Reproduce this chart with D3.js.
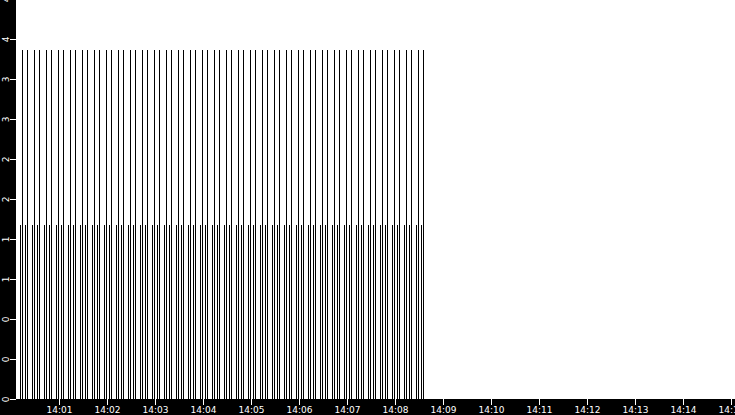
<!DOCTYPE html>
<html><head><meta charset="utf-8">
<script src="https://cdn.jsdelivr.net/npm/d3@7"></script>
<style>
html,body{margin:0;padding:0;background:#fff;}
svg{display:block;}
</style></head>
<body>
<svg id="c" width="735" height="415"></svg>
<script>
// ---- data ----
const tallTimes = [
"14:00:14.4","14:00:20.6","14:00:29.4","14:00:35.6","14:00:44.4","14:00:50.6","14:00:59.4","14:01:05.6",
"14:01:14.4","14:01:20.6","14:01:29.4","14:01:35.6","14:01:44.4","14:01:50.6","14:01:59.4","14:02:05.6",
"14:02:14.4","14:02:20.6","14:02:29.4","14:02:35.6","14:02:44.4","14:02:50.6","14:02:59.4","14:03:05.6",
"14:03:14.4","14:03:20.6","14:03:29.4","14:03:35.6","14:03:44.4","14:03:50.6","14:03:59.4","14:04:05.6",
"14:04:14.4","14:04:20.6","14:04:29.4","14:04:35.6","14:04:44.4","14:04:50.6","14:04:59.4","14:05:05.6",
"14:05:14.4","14:05:20.6","14:05:29.4","14:05:35.6","14:05:44.4","14:05:50.6","14:05:59.4","14:06:05.6",
"14:06:14.4","14:06:20.6","14:06:29.4","14:06:35.6","14:06:44.4","14:06:50.6","14:06:59.4","14:07:05.6",
"14:07:14.4","14:07:20.6","14:07:29.4","14:07:35.6","14:07:44.4","14:07:50.6","14:07:59.4","14:08:05.6",
"14:08:14.4","14:08:20.6","14:08:29.4","14:08:35.6"];
const tallValues = [
3.93,3.93,3.93,3.93,3.93,3.93,3.93,3.93,
3.93,3.93,3.93,3.93,3.93,3.93,3.93,3.93,
3.93,3.93,3.93,3.93,3.93,3.93,3.93,3.93,
3.93,3.93,3.93,3.93,3.93,3.93,3.93,3.93,
3.93,3.93,3.93,3.93,3.93,3.93,3.93,3.93,
3.93,3.93,3.93,3.93,3.93,3.93,3.93,3.93,
3.93,3.93,3.93,3.93,3.93,3.93,3.93,3.93,
3.93,3.93,3.93,3.93,3.93,3.93,3.93,3.93,
3.93,3.93,3.93,3.93];
const shortTimes = [
"14:00:11.9","14:00:18.1","14:00:26.9","14:00:33.1","14:00:41.9","14:00:48.1","14:00:56.9","14:01:03.1",
"14:01:11.9","14:01:18.1","14:01:26.9","14:01:33.1","14:01:41.9","14:01:48.1","14:01:56.9","14:02:03.1",
"14:02:11.9","14:02:18.1","14:02:26.9","14:02:33.1","14:02:41.9","14:02:48.1","14:02:56.9","14:03:03.1",
"14:03:11.9","14:03:18.1","14:03:26.9","14:03:33.1","14:03:41.9","14:03:48.1","14:03:56.9","14:04:03.1",
"14:04:11.9","14:04:18.1","14:04:26.9","14:04:33.1","14:04:41.9","14:04:48.1","14:04:56.9","14:05:03.1",
"14:05:11.9","14:05:18.1","14:05:26.9","14:05:33.1","14:05:41.9","14:05:48.1","14:05:56.9","14:06:03.1",
"14:06:11.9","14:06:18.1","14:06:26.9","14:06:33.1","14:06:41.9","14:06:48.1","14:06:56.9","14:07:03.1",
"14:07:11.9","14:07:18.1","14:07:26.9","14:07:33.1","14:07:41.9","14:07:48.1","14:07:56.9","14:08:03.1",
"14:08:11.9","14:08:18.1","14:08:26.9","14:08:33.1"];
const shortValues = [
1.96,1.96,1.96,1.96,1.96,1.96,1.96,1.96,
1.96,1.96,1.96,1.96,1.96,1.96,1.96,1.96,
1.96,1.96,1.96,1.96,1.96,1.96,1.96,1.96,
1.96,1.96,1.96,1.96,1.96,1.96,1.96,1.96,
1.96,1.96,1.96,1.96,1.96,1.96,1.96,1.96,
1.96,1.96,1.96,1.96,1.96,1.96,1.96,1.96,
1.96,1.96,1.96,1.96,1.96,1.96,1.96,1.96,
1.96,1.96,1.96,1.96,1.96,1.96,1.96,1.96,
1.96,1.96,1.96,1.96];
const xDomain = ["14:00:06.25","14:15:05"];
const yDomain = [0, 4.5];
const yTickValues = [0,0.45,0.9,1.35,1.8,2.25,2.7,3.15,3.6,4.05,4.5];
const yTickLabels = ["0","0","0","1","1","2","2","3","3","4","4"];
const xTickFormat = "%H:%M";

// ---- helpers ----
function parseT(s){
  const p = s.split(":");
  const sec = parseFloat(p[2]);
  return new Date(2020,0,1,+p[0],+p[1],Math.floor(sec),Math.round((sec-Math.floor(sec))*1000));
}

const W = 735, H = 415;
const mLeft = 16, mBottom = 399, mTop = -1;
const svg = d3.select("#c");

const x = d3.scaleTime().domain(xDomain.map(parseT)).range([mLeft, W]);
const y = d3.scaleLinear().domain(yDomain).range([mBottom, mTop]);

// axis backgrounds
svg.append("rect").attr("x",0).attr("y",0).attr("width",mLeft).attr("height",H).attr("fill","#000");
svg.append("rect").attr("x",0).attr("y",mBottom).attr("width",W).attr("height",H-mBottom).attr("fill","#000");

// marks
const g = svg.append("g").attr("shape-rendering","crispEdges");
const tall = tallTimes.map((t,i)=>({t:parseT(t), v:tallValues[i]}));
const short = shortTimes.map((t,i)=>({t:parseT(t), v:shortValues[i]}));
g.selectAll("line.s").data(short).join("line").attr("class","s")
  .attr("x1",d=>x(d.t)).attr("x2",d=>x(d.t))
  .attr("y1",y(0)).attr("y2",d=>y(d.v))
  .attr("stroke","#000").attr("stroke-width",1);
g.selectAll("line.t").data(tall).join("line").attr("class","t")
  .attr("x1",d=>x(d.t)).attr("x2",d=>x(d.t))
  .attr("y1",y(0)).attr("y2",d=>y(d.v))
  .attr("stroke","#000").attr("stroke-width",1);

// x axis
const xa = svg.append("g").attr("transform",`translate(0,${mBottom})`)
  .call(d3.axisBottom(x).ticks(d3.timeMinute.every(1)).tickFormat(d3.timeFormat(xTickFormat)).tickSizeOuter(0).tickSize(6).tickPadding(2));
xa.select(".domain").remove();
xa.selectAll("line").attr("stroke","#fff");
xa.selectAll("text").attr("fill","#fff").style("font-family","'DejaVu Sans'").style("font-size","9px");

// y axis
const ya = svg.append("g").attr("transform",`translate(${mLeft},0)`)
  .call(d3.axisLeft(y).tickValues(yTickValues).tickFormat((d,i)=>yTickLabels[i]).tickSizeOuter(0).tickSize(6));
ya.select(".domain").remove();
ya.selectAll("line").attr("stroke","#fff");
ya.selectAll("text")
  .attr("x",null).attr("dy",null)
  .attr("text-anchor","middle")
  .attr("transform","translate(-7,0) rotate(-90)")
  .attr("fill","#fff").style("font-family","'DejaVu Sans'").style("font-size","9px");
</script>
</body></html>
